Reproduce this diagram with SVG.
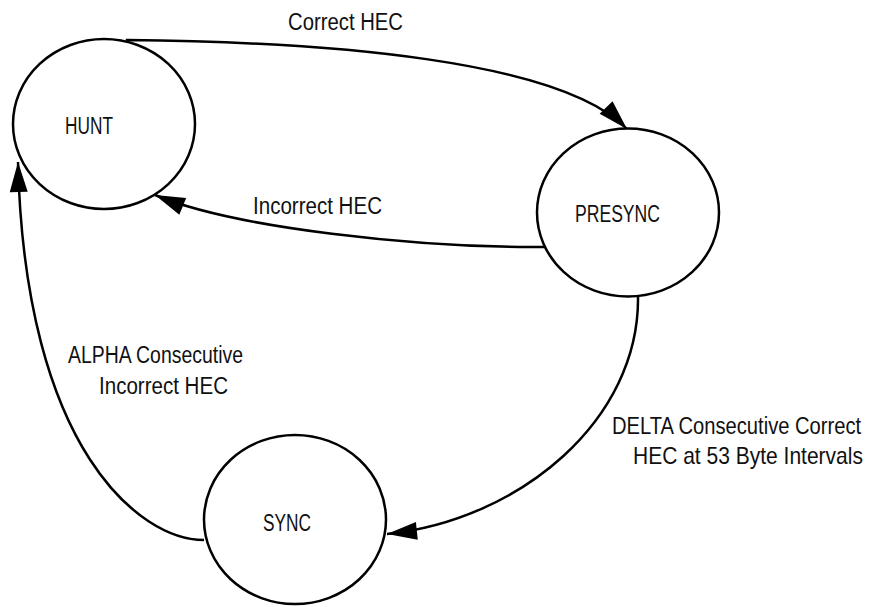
<svg xmlns="http://www.w3.org/2000/svg" width="871" height="607" viewBox="0 0 871 607">
  <defs>
    <marker id="arrow" markerUnits="userSpaceOnUse" markerWidth="31" markerHeight="19" refX="30" refY="9" orient="auto" overflow="visible">
      <path d="M0,0 L30,9 L0,18 z" fill="#000"/>
    </marker>
    <style>
      .state { fill: #fff; stroke: #000; stroke-width: 2.5; }
      .edge { fill: none; stroke: #000; stroke-width: 2.5; marker-end: url(#arrow); }
      text { font-family: "Liberation Sans", Arial, sans-serif; font-size: 23px; fill: #111; }
    </style>
  </defs>
  <rect width="871" height="607" fill="#fff"/>

  <!-- transitions -->
  <g id="connectors">
    <path class="edge" d="M127,42 L127,40 C330,42 560,60 627,129"/>
    <path class="edge" d="M548,247 L520,247 C420,246 240,230 155,195"/>
    <path class="edge" d="M204,540 C140,540 25,450 18,162"/>
    <path class="edge" d="M638,296 C640,420 520,520 387,534"/>
    <text x="288" y="30" textLength="115" lengthAdjust="spacingAndGlyphs">Correct HEC</text>
    <text x="253" y="214" textLength="129" lengthAdjust="spacingAndGlyphs">Incorrect HEC</text>
    <text x="68" y="363" textLength="175" lengthAdjust="spacingAndGlyphs">ALPHA Consecutive</text>
    <text x="99" y="394" textLength="129" lengthAdjust="spacingAndGlyphs">Incorrect HEC</text>
    <!-- long labels are narrowed so they stay inside the right edge -->
    <text transform="translate(612,434) scale(0.862,1)" textLength="289" lengthAdjust="spacingAndGlyphs">DELTA Consecutive Correct</text>
    <text transform="translate(633,464) scale(0.9,1)" textLength="255.5" lengthAdjust="spacingAndGlyphs">HEC at 53 Byte Intervals</text>
  </g>

  <!-- states -->
  <g id="hunt">
    <ellipse class="state" cx="104" cy="124" rx="91" ry="85"/>
    <text x="65" y="134" textLength="48" lengthAdjust="spacingAndGlyphs">HUNT</text>
  </g>
  <g id="presync">
    <ellipse class="state" cx="628" cy="212.5" rx="91" ry="84"/>
    <text x="575" y="221.5" textLength="85" lengthAdjust="spacingAndGlyphs">PRESYNC</text>
  </g>
  <g id="sync">
    <ellipse class="state" cx="295" cy="519.5" rx="91" ry="84.5"/>
    <text x="263" y="531" textLength="48" lengthAdjust="spacingAndGlyphs">SYNC</text>
  </g>
</svg>
